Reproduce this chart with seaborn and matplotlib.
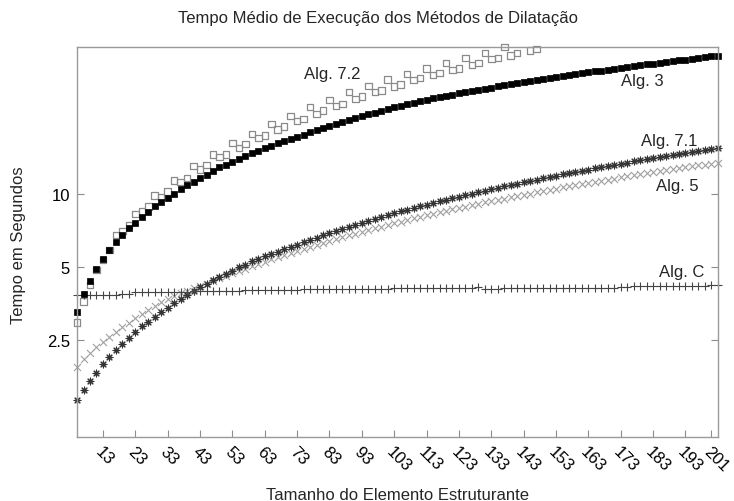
import numpy as np
import pandas as pd
import matplotlib
matplotlib.use('Agg')
import matplotlib.pyplot as plt
import seaborn as sns
from matplotlib.ticker import NullLocator, FixedLocator

# structuring element sizes (odd sizes, one point every 2)
sizes = list(range(5, 204, 2))

alg_72 = [2.96, 3.61, 4.21, 4.85, 5.34, 5.85, 6.76, 7.02, 7.43, 8.25,
          8.43, 8.85, 9.80, 9.66, 10.18, 11.30, 11.13, 11.56, 12.95, 12.54,
          13.11, 14.45, 14.10, 14.45, 16.09, 15.39, 15.99, 17.58, 16.92, 17.29,
          19.32, 18.31, 18.83, 20.78, 19.82, 20.25, 22.62, 21.23, 21.91, 24.25,
          22.84, 23.35, 26.08, 24.48, 25.02, 27.6, 26.08, 26.48, 29.38, 27.5,
          28.02, 31.0, 29.3, 29.85, 32.7, 30.72, 31.3, 34.3, 32.2, 32.7,
          36.07, 33.76, 34.3, 37.8, 35.73, 35.97, 39.9, 36.87, 37.71, 42.0,
          38.65, 39.27, 44.0, 41.6, 42.2, 46.2, 43.6, 44.2, 48.3, 45.6,
          46.2, 50.4, 47.6, 48.2, 52.5, 49.6, 50.2, 54.6, 51.6, 52.2,
          56.7, 53.6, 54.2, 58.8, 55.6, 56.2, 60.9, 57.6, 58.2, 63.0]

alg_3 = [3.25, 3.87, 4.39, 4.90, 5.39, 5.87, 6.31, 6.76, 7.20, 7.60,
         8.04, 8.43, 8.87, 9.26, 9.60, 10.0, 10.4, 10.8, 11.2, 11.55,
         11.95, 12.35, 12.8, 13.1, 13.5, 13.9, 14.3, 14.65, 15.0, 15.35,
         15.7, 16.1, 16.4, 16.75, 17.1, 17.45, 17.82, 18.19, 18.56, 18.93,
         19.30, 19.67, 20.04, 20.41, 20.78, 21.14, 21.50, 21.86, 22.22, 22.57,
         22.92, 23.27, 23.61, 23.94, 24.26, 24.57, 24.88, 25.18, 25.48, 25.78,
         26.07, 26.36, 26.65, 26.94, 27.23, 27.52, 27.81, 28.10, 28.38, 28.66,
         28.94, 29.22, 29.50, 29.78, 30.06, 30.34, 30.62, 30.90, 31.18, 31.46,
         31.74, 32.01, 32.28, 32.55, 32.82, 33.09, 33.36, 33.63, 33.90, 34.17,
         34.44, 34.71, 34.98, 35.25, 35.52, 35.79, 36.06, 36.33, 36.60, 36.87]

alg_71 = [1.42, 1.56, 1.70, 1.84, 1.99, 2.13, 2.27, 2.42, 2.56, 2.71,
          2.85, 2.98, 3.11, 3.25, 3.40, 3.54, 3.69, 3.83, 3.97, 4.12,
          4.25, 4.40, 4.56, 4.67, 4.82, 4.98, 5.10, 5.27, 5.39, 5.53,
          5.65, 5.77, 5.92, 6.05, 6.17, 6.31, 6.45, 6.59, 6.74, 6.88,
          7.02, 7.16, 7.30, 7.45, 7.59, 7.73, 7.87, 8.01, 8.15, 8.30,
          8.44, 8.58, 8.72, 8.86, 9.00, 9.15, 9.29, 9.43, 9.57, 9.71,
          9.85, 10.0, 10.14, 10.28, 10.42, 10.56, 10.70, 10.85, 10.99, 11.13,
          11.27, 11.41, 11.55, 11.70, 11.84, 11.98, 12.12, 12.26, 12.40, 12.55,
          12.69, 12.83, 12.97, 13.11, 13.25, 13.40, 13.54, 13.68, 13.82, 13.96,
          14.10, 14.25, 14.39, 14.53, 14.67, 14.81, 14.95, 15.10, 15.24, 15.38]

alg_5 = [1.94, 2.09, 2.22, 2.34, 2.46, 2.58, 2.69, 2.82, 2.94, 3.07,
         3.20, 3.33, 3.45, 3.58, 3.70, 3.80, 3.90, 3.99, 4.08, 4.17,
         4.27, 4.37, 4.48, 4.59, 4.70, 4.81, 4.92, 5.03, 5.14, 5.25,
         5.36, 5.47, 5.58, 5.69, 5.80, 5.92, 6.04, 6.15, 6.27, 6.39,
         6.50, 6.62, 6.74, 6.85, 6.97, 7.09, 7.20, 7.32, 7.44, 7.55,
         7.67, 7.79, 7.90, 8.02, 8.14, 8.25, 8.37, 8.49, 8.60, 8.72,
         8.84, 8.95, 9.07, 9.19, 9.30, 9.42, 9.54, 9.65, 9.77, 9.89,
         10.0, 10.12, 10.24, 10.35, 10.47, 10.59, 10.70, 10.82, 10.94, 11.05,
         11.17, 11.29, 11.40, 11.52, 11.64, 11.75, 11.87, 11.99, 12.10, 12.22,
         12.34, 12.45, 12.57, 12.69, 12.80, 12.92, 13.04, 13.15, 13.27, 13.39]

alg_c = [3.83, 3.83, 3.83, 3.84, 3.84, 3.84, 3.84, 3.85, 3.85, 3.93,
         3.93, 3.93, 3.94, 3.94, 3.94, 3.94, 3.95, 3.95, 3.97, 3.97,
         3.98, 3.98, 3.98, 3.99, 3.99, 3.99, 4.02, 4.02, 4.02, 4.02,
         4.03, 4.03, 4.03, 4.03, 4.03, 4.04, 4.06, 4.06, 4.06, 4.06,
         4.06, 4.07, 4.07, 4.07, 4.07, 4.07, 4.07, 4.07, 4.07, 4.08,
         4.08, 4.08, 4.08, 4.08, 4.08, 4.08, 4.08, 4.09, 4.09, 4.09,
         4.09, 4.09, 4.13, 4.07, 4.07, 4.07, 4.08, 4.08, 4.08, 4.08,
         4.08, 4.09, 4.09, 4.09, 4.09, 4.09, 4.10, 4.10, 4.10, 4.10,
         4.10, 4.11, 4.11, 4.11, 4.15, 4.15, 4.16, 4.16, 4.16, 4.17,
         4.17, 4.17, 4.18, 4.18, 4.18, 4.19, 4.19, 4.19, 4.20, 4.20]

xtick_vals = [13, 23, 33, 43, 53, 63, 73, 83, 93, 103, 113, 123, 133, 143,
              153, 163, 173, 183, 193, 201]
ytick_vals = [2.5, 5, 10]
ytick_labels = ['2.5', '5', '10']

Y_MIN, Y_MAX = 1, 40

sns.set_style('white')
plt.rcParams['font.family'] = ['Liberation Sans', 'DejaVu Sans']

fig = plt.figure(figsize=(7.34, 5.02), dpi=100)
ax = fig.add_axes([0.105, 0.1275, 0.873, 0.777])

# points above the y range are dropped, not clipped
alg_72_shown = [v if v <= Y_MAX else np.nan for v in alg_72]

# drawn back to front
sns.scatterplot(x=sizes, y=alg_72_shown, marker='s', s=22, facecolors='none',
                edgecolor='#8a8a8a', linewidth=0.9, clip_on=False, ax=ax)
sns.scatterplot(x=sizes, y=alg_5, marker='x', s=26, color='#a0a0a0',
                linewidth=0.8, clip_on=False, ax=ax)
sns.scatterplot(x=sizes, y=alg_71, marker=(8, 2, 0), s=24, color='#333333',
                linewidth=0.8, clip_on=False, ax=ax)
sns.scatterplot(x=sizes, y=alg_c, marker='+', s=30, color='#444444',
                linewidth=0.8, clip_on=False, ax=ax)
sns.scatterplot(x=sizes, y=alg_3, marker='s', s=22, color='black',
                edgecolor='black', linewidth=0.5, clip_on=False, ax=ax)

ax.set_yscale('log')
ax.set_ylim(Y_MIN, Y_MAX)
ax.set_xlim(5, 203)
ax.yaxis.set_major_locator(FixedLocator(ytick_vals))
ax.yaxis.set_minor_locator(NullLocator())
ax.set_yticklabels(ytick_labels)
ax.set_xticks(xtick_vals)
ax.set_xticklabels([str(v) for v in xtick_vals], rotation=-45, ha='left',
                   va='top', rotation_mode='anchor', fontsize=12)

ax.tick_params(axis='both', direction='in', length=5, width=0.8,
               color='#8c8c8c', labelcolor='black')
ax.tick_params(axis='y', left=True, right=True, pad=5, labelsize=12)
ax.tick_params(axis='x', bottom=True, top=False, pad=5)

for sp in ax.spines.values():
    sp.set_visible(True)
    sp.set_color('#9a9a9a')
    sp.set_linewidth(1)

ax.set_title('Tempo Médio de Execução dos Métodos de Dilatação', fontsize=12,
             x=0.47, pad=18)
ax.set_xlabel('Tamanho do Elemento Estruturante', fontsize=12)
ax.xaxis.set_label_coords(0.5, -0.128)
ax.set_ylabel('Tempo em Segundos', fontsize=12)
ax.yaxis.set_label_coords(-0.08, 0.495)

# series labels, placed in figure pixels
label_txt = ['Alg. 7.2', 'Alg. 3', 'Alg. 7.1', 'Alg. 5', 'Alg. C']
label_px = [(332, 75), (642.5, 81.7), (669, 141.7), (677.5, 186), (681.7, 273)]
W, H = 734, 502
for txt, (px, py) in zip(label_txt, label_px):
    fig.text(px / W, 1 - py / H, txt, fontsize=12, ha='center', va='center')

fig.savefig('out.png', dpi=100)
